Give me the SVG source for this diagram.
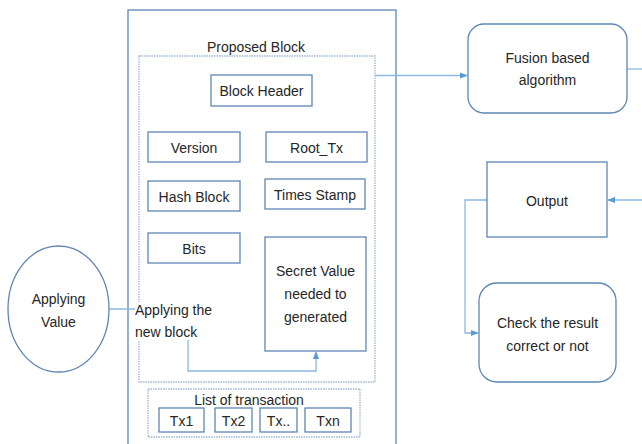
<svg xmlns="http://www.w3.org/2000/svg" width="642" height="444" viewBox="0 0 642 444">
<defs>
<style>
text{font-family:"Liberation Sans",Arial,sans-serif;font-size:14px;fill:#262626;text-anchor:middle}
.box{fill:#fff;stroke:#5f86b3;stroke-width:1.3}
.dot{fill:none;stroke:#9fb6d2;stroke-width:1.3;stroke-dasharray:1.5 1}
.conn{fill:none;stroke:#8fb8e2;stroke-width:1.3}
</style>
<marker id="ah" viewBox="0 0 10 10" refX="9" refY="5" markerWidth="6" markerHeight="6" orient="auto">
<path d="M0,1 L10,5 L0,9 Z" fill="#5b9bd5"/>
</marker>
</defs>
<rect width="642" height="444" fill="#fff"/>
<g id="proposed-block">
<rect x="128" y="10" width="268" height="440" fill="none" stroke="#5f86b3" stroke-width="1.3"/>
<text x="256" y="52">Proposed Block</text>
<rect class="dot" x="139" y="56" width="236" height="326"/>
</g>
<g id="connectors">
<path class="conn" d="M375,75.5 H467" marker-end="url(#ah)"/>
<path class="conn" d="M627,69 H642"/>
<path class="conn" d="M642,200 H608" marker-end="url(#ah)"/>
<path class="conn" d="M487,200 H465 V333 H478" marker-end="url(#ah)"/>
<path class="conn" d="M109,309 H188 V371 H316 V352" marker-end="url(#ah)"/>
</g>
<g id="block-header"><rect class="box" x="211" y="75" width="101" height="31"/><text x="261.5" y="96">Block Header</text></g>
<g id="version"><rect class="box" x="148" y="132" width="92" height="30"/><text x="194" y="153">Version</text></g>
<g id="root-tx"><rect class="box" x="266" y="132" width="101" height="30"/><text x="316.5" y="153">Root_Tx</text></g>
<g id="hash-block"><rect class="box" x="148" y="181" width="92" height="30"/><text x="194" y="202">Hash Block</text></g>
<g id="times-stamp"><rect class="box" x="265" y="179" width="100" height="30"/><text x="315" y="200">Times Stamp</text></g>
<g id="bits"><rect class="box" x="148" y="233" width="92" height="30"/><text x="194" y="254">Bits</text></g>
<g id="secret-value"><rect class="box" x="265" y="237" width="101" height="114"/>
<text x="315.5" y="276">Secret Value</text><text x="315.5" y="299">needed to</text><text x="315.5" y="322">generated</text></g>
<g id="applying-value"><ellipse cx="58.5" cy="309" rx="50.5" ry="63" fill="#fff" stroke="#5f86b3" stroke-width="1.3"/>
<text x="58.5" y="304">Applying</text><text x="58.5" y="327">Value</text></g>
<g id="applying-label"><rect x="135" y="302" width="79" height="38" fill="#fff"/>
<text x="135" y="315" style="text-anchor:start">Applying the</text><text x="135" y="337" style="text-anchor:start">new block</text></g>
<g id="list-of-transaction"><rect class="dot" x="148" y="389" width="212" height="48"/>
<text x="249" y="405">List of transaction</text></g>
<g id="tx1"><rect class="box" x="159" y="408" width="45" height="24"/><text x="181.5" y="426">Tx1</text></g>
<g id="tx2"><rect class="box" x="215" y="408" width="37" height="24"/><text x="233.5" y="426">Tx2</text></g>
<g id="txdots"><rect class="box" x="260" y="408" width="37" height="24"/><text x="278.5" y="426">Tx..</text></g>
<g id="txn"><rect class="box" x="305" y="408" width="46" height="24"/><text x="328" y="426">Txn</text></g>
<g id="fusion"><rect class="box" x="468" y="24" width="159" height="89" rx="16"/>
<text x="547.5" y="63">Fusion based</text><text x="547.5" y="85">algorithm</text></g>
<g id="output"><rect class="box" x="487" y="162" width="120" height="75"/><text x="547" y="206">Output</text></g>
<g id="check"><rect class="box" x="479" y="283" width="137" height="99" rx="18"/>
<text x="547.5" y="328">Check the result</text><text x="547.5" y="351">correct or not</text></g>
</svg>
